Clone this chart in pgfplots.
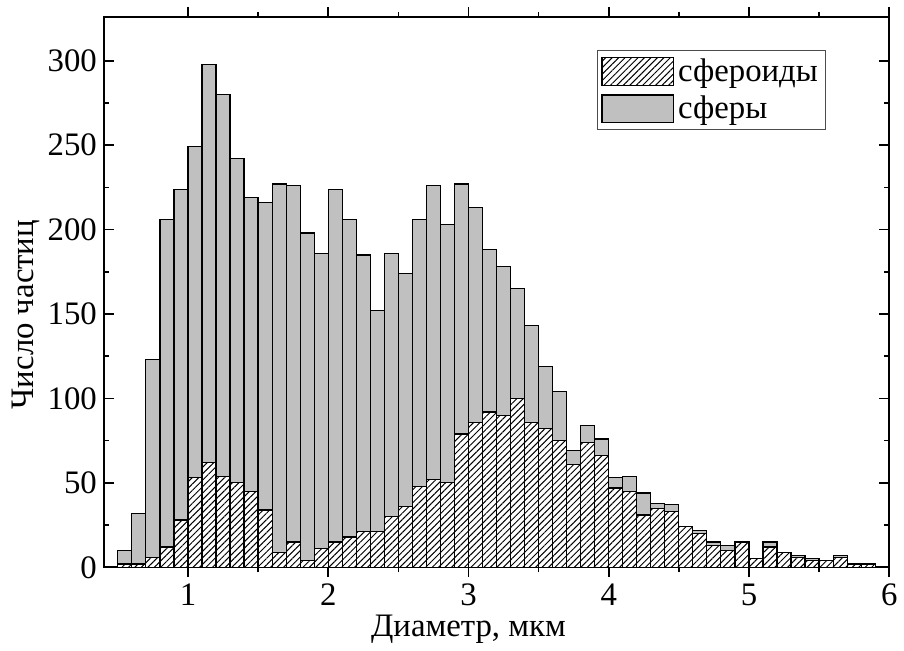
\documentclass[border=0pt]{standalone}
\usepackage{fontspec}
\setmainfont{Liberation Serif}
\usepackage{pgfplots}
\usepackage{pgfplotstable}
\pgfplotsset{compat=1.18}
\usetikzlibrary{patterns.meta}
\definecolor{sgray}{RGB}{192,192,192}

\pgfplotstableread{
x tot sph
0.55 10 2
0.65 32 2
0.75 123 6
0.85 206 12
0.95 224 28
1.05 249 53
1.15 298 62
1.25 280 54
1.35 242 50
1.45 219 45
1.55 216 34
1.65 227 9
1.75 226 15
1.85 198 4
1.95 186 11
2.05 224 15
2.15 206 18
2.25 185 21
2.35 152 21
2.45 186 30
2.55 174 36
2.65 206 48
2.75 226 52
2.85 203 50
2.95 227 79
3.05 213 86
3.15 188 92
3.25 178 90
3.35 165 100
3.45 143 86
3.55 119 82
3.65 104 75
3.75 69 61
3.85 84 74
3.95 76 66
4.05 53 47
4.15 54 45
4.25 44 31
4.35 38 35
4.45 37 33
4.55 24 24
4.65 22 20
4.75 15 13
4.85 13 10
4.95 15 15
5.05 5 5
5.15 15 12
5.25 9 9
5.35 7 6
5.45 5 4
5.55 4 4
5.65 7 6
5.75 2 2
5.85 2 2
}\histdata

\begin{document}
\begin{tikzpicture}
\begin{axis}[
  scale only axis, width=395.25pt, height=277pt,
  xmin=0.4, xmax=6, ymin=0, ymax=326,
  xtick={1,2,3,4,5,6}, ytick={0,50,100,150,200,250,300},
  minor x tick num=1, minor y tick num=1,
  tick align=inside,
  major tick length=5pt, minor tick length=2.5pt,
  tick style={line width=0.8pt, black},
  axis line style={line width=1.1pt},
  /pgf/number format/assume math mode=true,
  tick label style={font=\fontsize{16.5}{19}\selectfont},
  label style={font=\fontsize{16.5}{19}\selectfont},
  xlabel={Диаметр, мкм},
  ylabel={Число частиц},
  xlabel style={at={(axis cs:3,0)}, yshift=-35pt, anchor=base},
  ylabel style={at={(axis description cs:-0.0898,0.459)}, anchor=base},
  ybar, bar width=0.1,
  legend image code/.code={\draw[#1] (0pt,-7pt) rectangle (36pt,7pt);},
  reverse legend,
  legend cell align=left,
  legend style={at={(0.92,0.94)}, anchor=north east, draw=black!70, line width=0.5pt,
    font=\fontsize{16.5}{19}\selectfont, inner sep=2pt, row sep=2pt},
]
\addplot[bar shift=0pt, fill=sgray, draw=black, line width=0.6pt] table[x=x, y=tot] {\histdata};
\addlegendentry{сферы}
\addplot[bar shift=0pt, fill=white, draw=black, line width=0.6pt,
  postaction={pattern={Lines[angle=45,distance=2.3pt,line width=0.5pt]}}] table[x=x, y=sph] {\histdata};
\addlegendentry{сфероиды}
\end{axis}
\path ([shift={(-52.25pt,-37.5pt)}]current axis.south west) rectangle ([shift={(4.5pt,8.5pt)}]current axis.north east);
\end{tikzpicture}
\end{document}
